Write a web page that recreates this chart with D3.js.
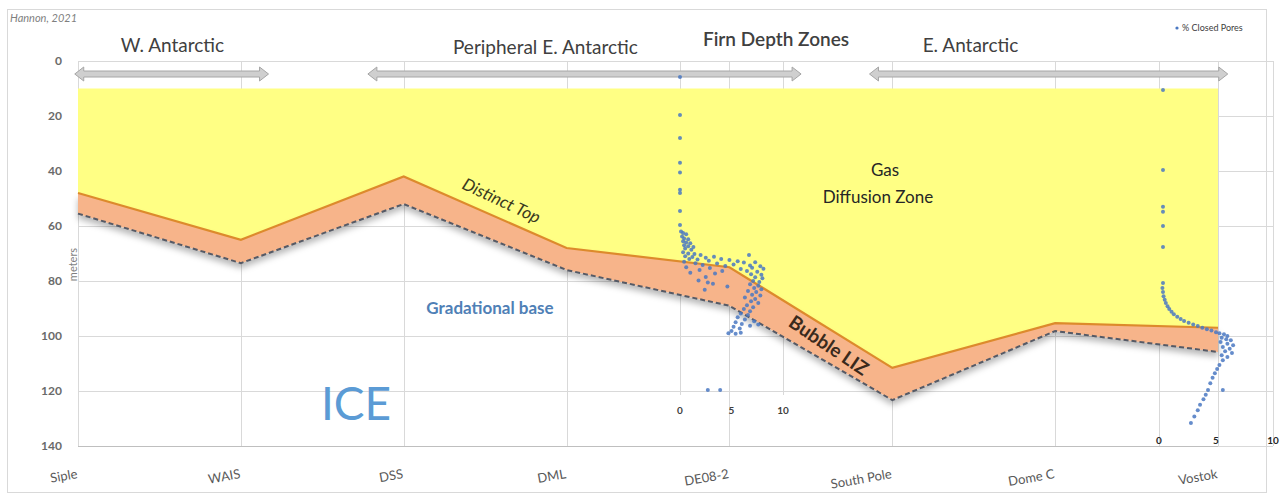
<!DOCTYPE html>
<html>
<head>
<meta charset="utf-8">
<script src="https://cdn.jsdelivr.net/npm/d3@7"></script>
<style>
  html, body { margin: 0; padding: 0; background: #fff; }
  svg { display: block; font-family: Lato, "Open Sans", sans-serif; }
</style>
</head>
<body>
<svg id="chart" width="1280" height="498"></svg>
<script>
// Firn sites along the transect
const sites = ["Siple", "WAIS", "DSS", "DML", "DE08-2", "South Pole", "Dome C", "Vostok"];
// Depth (m) of the top of the bubble lock-in zone ("Distinct Top")
const lizTop = [48, 65, 42, 68, 75, 111.6, 95.3, 97];
// Depth (m) of the gradational base of the lock-in zone
const lizBase = [55.5, 73.5, 52, 76, 89, 123.3, 98.2, 105.8];
// Upper limit of the diffusive column (m)
const diffusionTop = 10;
const depthTicks = [0, 20, 40, 60, 80, 100, 120, 140];
const poreTicks = [0, 5, 10];

// % closed pores vs depth, DE08-2 core  [percent, depth m]
const de08Pores = [
  [0,5.8],[0,19.6],[0,28],[0,37],[0,40.5],[0,46.8],[0,48],[0,54.5],[0,59.6],
  [0.1,62],[0.3,62.5],[0.6,63],[0.2,63.8],[0.4,64.5],[0.8,64.8],[0.3,65.5],[0.6,66],[1.0,66.3],[0.4,67],[0.8,67.4],[1.3,67.6],[0.5,68.2],[1.1,68.6],
  [0.3,69.5],[0.8,70],[1.4,70.2],[2.0,70.5],[0.5,71],[1.2,71.3],[2.5,71.5],[3.3,71.2],[6.7,70.5],[0.9,72],[1.7,72.2],[2.8,72.6],[4.0,72],[4.8,72.4],[5.6,72.8],
  [0.4,73],[1.5,73.5],[3.6,73.6],[6.2,73.3],[7.3,73.2],[2.2,74.2],[4.4,74.5],[5.2,74],[6.8,74.4],[7.8,74.6],[0.6,75],[2.9,75.3],[5.9,75.6],[7.0,75.2],[8.1,75.5],
  [1.9,76],[4.1,76.4],[6.5,76.4],[7.5,76.6],[1.0,77],[3.4,77.3],[6.9,77.5],[7.9,77.7],
  [2.5,78.5],[7.3,78.6],[8.0,79],[1.8,79.8],[2.7,80.5],[7.1,80],[7.7,80.4],[3.2,81],[6.8,81.2],[7.6,81.7],[4.6,82],[7.2,82.5],[7.9,83],[2.4,83.2],
  [6.6,83.6],[7.4,84],[7.0,85],[7.8,85.3],[6.3,86],[7.3,86.5],[6.9,87.4],[7.6,88],[6.5,88.8],[7.1,89.5],[6.2,90.2],[6.8,91],[5.9,91.8],[6.6,92.4],
  [5.6,93.2],[6.3,94],[7.2,94.6],[5.4,95],[6.0,95.6],[7.6,95.8],[6.8,96.3],[5.2,96.6],[5.8,97.3],[5.0,98.2],[4.7,99],[5.4,99.2],[5.9,98.8],
  [2.7,119.6],[3.9,119.6]
];
// % closed pores vs depth, Vostok core  [percent, depth m]
const vostokPores = [
  [0.35,10.5],[0.35,39.6],[0.35,53],[0.35,54.8],[0.35,60],[0.35,67.6],[0.35,80.7],
  [0.3,82.5],[0.35,84],[0.4,85.5],[0.5,86.8],[0.6,88],[0.75,89.2],[0.9,90.2],[1.1,91.2],[1.3,92.1],[1.6,93],[1.9,93.8],[2.2,94.5],[2.6,95.2],
  [3.0,95.8],[3.4,96.4],[3.8,97],[4.2,97.5],[4.6,98],[5.0,98.6],[5.3,99],[5.7,99.4],[6.0,100],[5.5,100.6],[5.9,101.2],[6.3,101.5],[5.4,102.2],
  [6.0,102.8],[6.5,103.4],[5.6,104],[6.2,104.6],[5.8,105.5],[6.4,106.2],[5.5,107],[6.0,107.6],[5.6,108.8],[5.3,110.5],[5.1,112],[4.9,113.5],
  [4.7,115.2],[4.5,117.2],[4.3,119.6],[5.6,119.6],[4.1,121.4],[3.9,123],[3.6,125],[3.4,127],[3.1,129.3],[2.8,131.6]
];

// Regional groupings, spans in site-index units
const regions = [
  { name: "W. Antarctic", from: -0.02, to: 1.17, labelAt: 0.58 },
  { name: "Peripheral E. Antarctic", from: 1.78, to: 4.44, labelAt: 2.87 },
  { name: "E. Antarctic", from: 4.86, to: 7.06, labelAt: 5.48 }
];

const svg = d3.select("#chart");
const L = 78, R = 1218, T = 61, B = 446;

const x = d3.scalePoint().domain(sites).range([L, R]);
const xi = d3.scaleLinear().domain([0, sites.length - 1]).range([L, R]);
const y = d3.scaleLinear().domain([0, 140]).range([T, B]);
const xDe = d3.scaleLinear().domain([0, 10]).range([680, 783]);
const xVo = d3.scaleLinear().domain([0, 10]).range([1159, 1273]);

const defs = svg.append("defs");
const f = defs.append("filter").attr("id", "bandShadow")
  .attr("x", "-5%").attr("y", "-30%").attr("width", "110%").attr("height", "180%");
f.append("feDropShadow").attr("dx", 0).attr("dy", 5).attr("stdDeviation", 3)
  .attr("flood-color", "#000").attr("flood-opacity", 0.28);

// chart frame
svg.append("rect").attr("x", 7.5).attr("y", 9.5).attr("width", 1259).attr("height", 483)
  .attr("fill", "#fff").attr("stroke", "#d9d9d9");

svg.append("text").attr("x", 10).attr("y", 22).attr("font-size", 11)
  .attr("font-style", "italic").attr("fill", "#7f7f7f").text("Hannon, 2021");

// gridlines
const grid = svg.append("g").attr("stroke", "#d9d9d9").attr("stroke-width", 1);
grid.selectAll(".h").data(depthTicks).join("line")
  .attr("x1", L).attr("x2", xVo(10))
  .attr("y1", d => Math.round(y(d)) + 0.5).attr("y2", d => Math.round(y(d)) + 0.5);
grid.selectAll(".v").data(sites).join("line")
  .attr("x1", d => Math.round(x(d)) + 0.5).attr("x2", d => Math.round(x(d)) + 0.5)
  .attr("y1", T).attr("y2", B);
grid.selectAll(".vd").data([0, 10]).join("line")
  .attr("x1", d => Math.round(xDe(d)) + 0.5).attr("x2", d => Math.round(xDe(d)) + 0.5)
  .attr("y1", T).attr("y2", y(120) + 4);
grid.selectAll(".vv").data([0, 10]).join("line")
  .attr("x1", d => Math.round(xVo(d)) + 0.5).attr("x2", d => Math.round(xVo(d)) + 0.5)
  .attr("y1", T).attr("y2", B);

// Gas diffusion zone
const idx = sites.map((d, i) => i);
svg.append("path")
  .attr("d", d3.area().x(i => x(sites[i])).y0(y(diffusionTop)).y1(i => y(lizTop[i]))(idx))
  .attr("fill", "#ffff84");

// Bubble lock-in zone band
const bandG = svg.append("g").attr("filter", "url(#bandShadow)");
bandG.append("path")
  .attr("d", d3.area().x(i => x(sites[i])).y0(i => y(lizTop[i])).y1(i => y(lizBase[i]))(idx))
  .attr("fill", "#f7b48a");
svg.append("path")
  .attr("d", d3.line().x(i => x(sites[i])).y(i => y(lizTop[i]))(idx))
  .attr("fill", "none").attr("stroke", "#dd8a2c").attr("stroke-width", 2.2);
svg.append("path")
  .attr("d", d3.line().x(i => x(sites[i])).y(i => y(lizBase[i]))(idx))
  .attr("fill", "none").attr("stroke", "#555a66").attr("stroke-width", 2)
  .attr("stroke-dasharray", "5,3");

// bottom axis line
svg.append("line").attr("x1", L).attr("x2", R).attr("y1", B + 0.5).attr("y2", B + 0.5)
  .attr("stroke", "#bfbfbf");

// depth axis
svg.append("g").selectAll("text").data(depthTicks).join("text")
  .attr("x", 62).attr("y", d => y(d) + 4).attr("text-anchor", "end")
  .attr("font-size", 12).attr("font-weight", 700).attr("fill", "#6a6a6a").text(d => d);
svg.append("text").attr("transform", `translate(77,${y(74)}) rotate(-90)`)
  .attr("text-anchor", "middle").attr("font-size", 11).attr("fill", "#7f7f7f").text("meters");

// site labels
svg.append("g").selectAll("text").data(sites).join("text")
  .attr("transform", d => `translate(${x(d)},478) rotate(-10)`)
  .attr("text-anchor", "end").attr("font-size", 13).attr("fill", "#595959").text(d => d);

// region arrows
function arrowPath(x0, x1, yc) {
  const s = 3, h = 7, hl = 9;
  return `M${x0},${yc} L${x0 + hl},${yc - h} L${x0 + hl},${yc - s} L${x1 - hl},${yc - s} L${x1 - hl},${yc - h}` +
         ` L${x1},${yc} L${x1 - hl},${yc + h} L${x1 - hl},${yc + s} L${x0 + hl},${yc + s} L${x0 + hl},${yc + h} Z`;
}
svg.append("g").selectAll("path").data(regions).join("path")
  .attr("d", d => arrowPath(xi(d.from), xi(d.to), 74))
  .attr("fill", "#cfcfcf").attr("stroke", "#a6a6a6").attr("stroke-width", 1);
svg.append("g").selectAll("text").data(regions).join("text")
  .attr("x", d => xi(d.labelAt)).attr("y", d => d.name.startsWith("Peripheral") ? 54 : 52)
  .attr("text-anchor", "middle")
  .attr("font-size", 19).attr("fill", "#404040").text(d => d.name);
svg.append("text").attr("x", 776).attr("y", 46).attr("text-anchor", "middle")
  .attr("font-size", 19).attr("font-weight", 600).attr("fill", "#404040").text("Firn Depth Zones");

// legend
svg.append("circle").attr("cx", 1177).attr("cy", 28).attr("r", 1.6).attr("fill", "#4a78c2");
svg.append("text").attr("x", 1182).attr("y", 31).attr("font-size", 9).attr("fill", "#404040").text("% Closed Pores");

// zone annotations
svg.append("text").attr("x", 885).attr("y", 176).attr("text-anchor", "middle")
  .attr("font-size", 17).attr("fill", "#262626").text("Gas");
svg.append("text").attr("x", 878).attr("y", 203).attr("text-anchor", "middle")
  .attr("font-size", 17).attr("fill", "#262626").text("Diffusion Zone");
svg.append("text").attr("transform", "translate(499,206) rotate(25)").attr("text-anchor", "middle")
  .attr("font-size", 17).attr("font-style", "italic").attr("fill", "#3a3a20").text("Distinct Top");
svg.append("text").attr("transform", "translate(825,351) rotate(34)").attr("text-anchor", "middle")
  .attr("font-size", 19).attr("font-weight", 700).attr("fill", "#3a2a1c").text("Bubble LIZ");
svg.append("text").attr("x", 490).attr("y", 314).attr("text-anchor", "middle")
  .attr("font-size", 17).attr("font-weight", 700).attr("fill", "#4f80b6").text("Gradational base");
svg.append("text").attr("x", 356).attr("y", 420).attr("text-anchor", "middle")
  .attr("font-size", 46).attr("fill", "#5b9bd5").text("ICE");

// closed-pore profiles
function poreLayer(data, sx) {
  svg.append("g").selectAll("circle").data(data).join("circle")
    .attr("cx", d => sx(d[0])).attr("cy", d => y(d[1])).attr("r", 2)
    .attr("fill", "#4a78c2").attr("fill-opacity", 0.85);
}
poreLayer(de08Pores, xDe);
poreLayer(vostokPores, xVo);

// pore-axis tick labels
svg.append("g").selectAll("text").data(poreTicks).join("text")
  .attr("x", d => xDe(d)).attr("y", 414).attr("text-anchor", "middle")
  .attr("font-size", 10).attr("font-weight", 700).attr("fill", "#404040").text(d => d);
svg.append("g").selectAll("text").data(poreTicks).join("text")
  .attr("x", d => xVo(d)).attr("y", 444).attr("text-anchor", "middle")
  .attr("font-size", 10).attr("font-weight", 700).attr("fill", "#262626").text(d => d);
</script>
</body>
</html>
